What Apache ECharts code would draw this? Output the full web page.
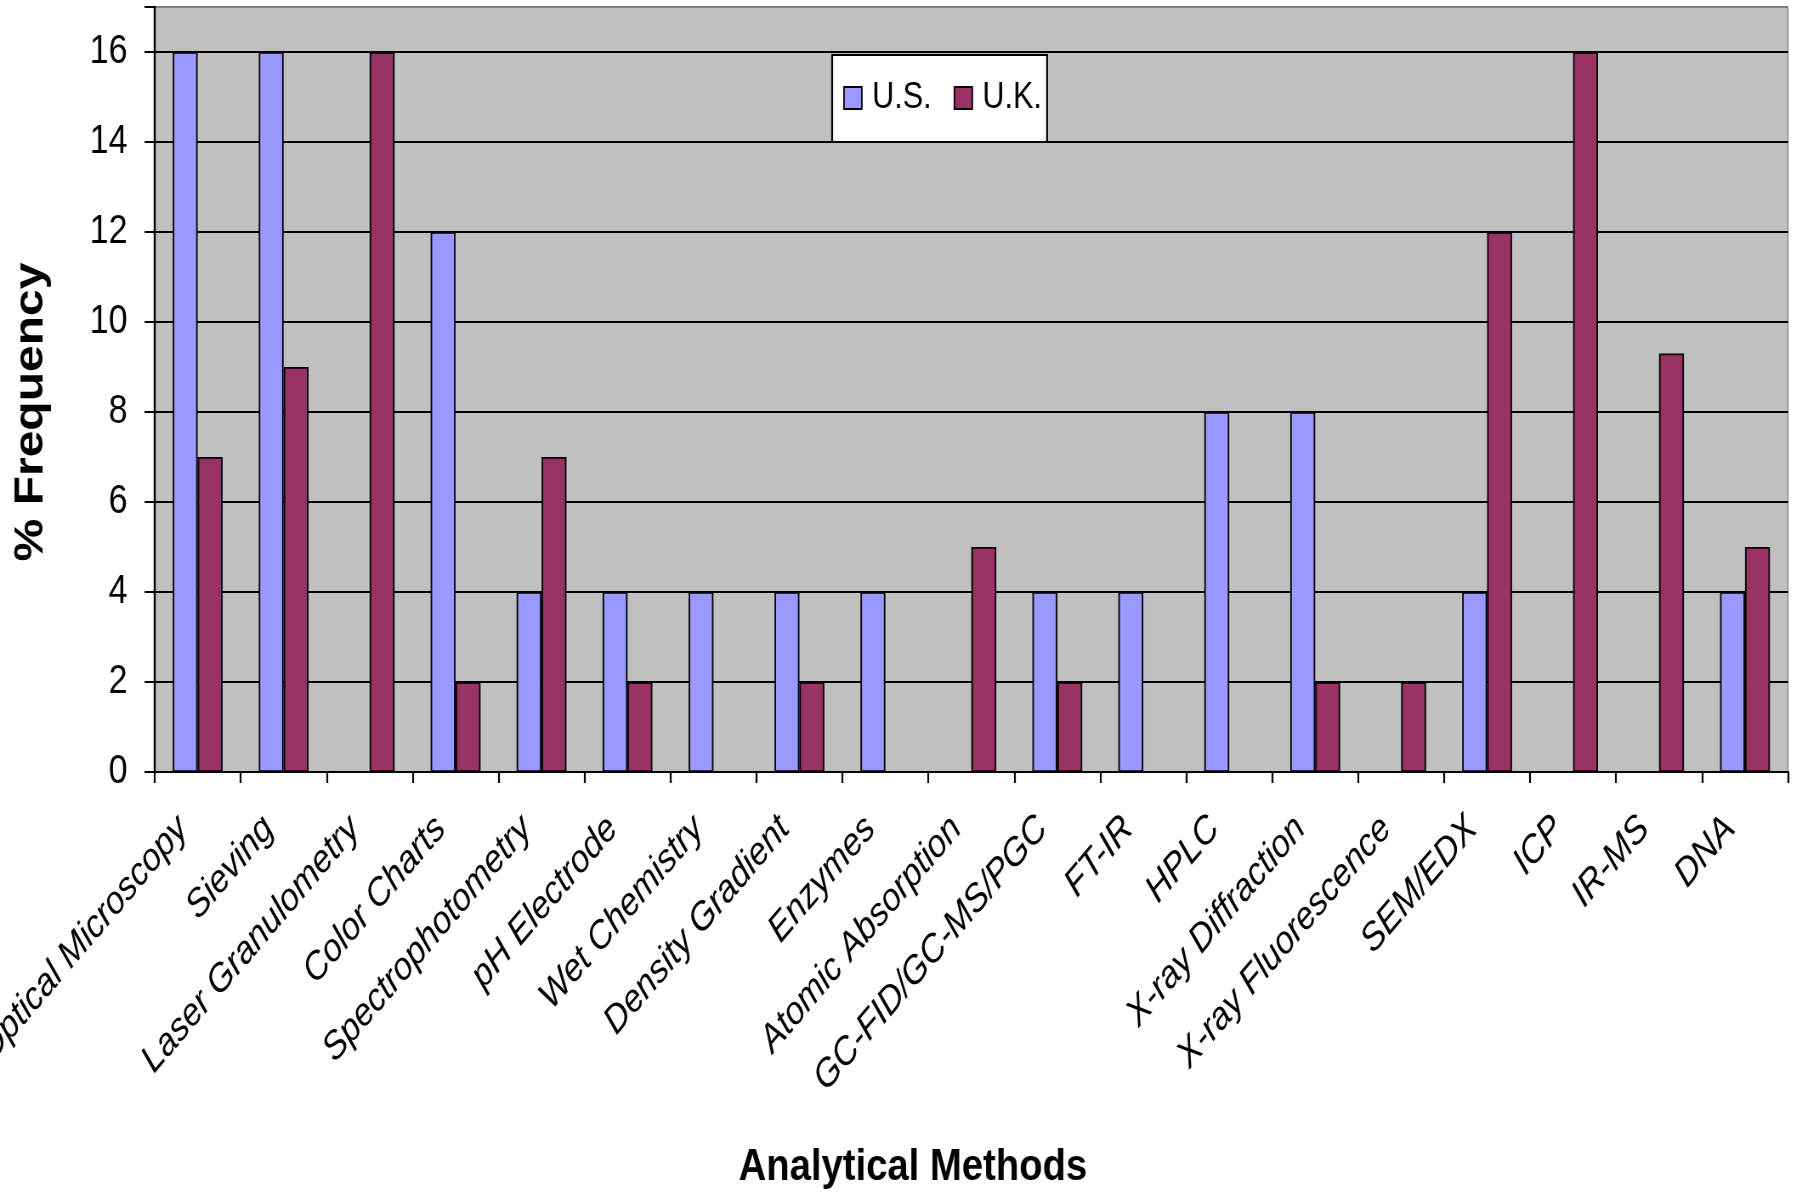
<!DOCTYPE html>
<html><head><meta charset="utf-8">
<script src="https://cdn.jsdelivr.net/npm/echarts@6/dist/echarts.min.js"></script>
<style>
html,body{margin:0;padding:0;background:#fff;overflow:hidden;width:1796px;height:1193px}
#c{width:2113px;height:1193px;transform:scaleX(0.85);transform-origin:0 0}
</style>
</head><body><div id="c"></div>
<script>
const categories = ['Optical Microscopy','Sieving','Laser Granulometry','Color Charts','Spectrophotometry','pH Electrode','Wet Chemistry','Density Gradient','Enzymes','Atomic Absorption','GC-FID/GC-MS/PGC','FT-IR','HPLC','X-ray Diffraction','X-ray Fluorescence','SEM/EDX','ICP','IR-MS','DNA'];
const usValues = [16,16,0,12,4,4,4,4,4,0,4,4,8,8,0,4,0,0,4];
const ukValues = [7,9,16,2,7,2,0,2,0,5,2,0,0,2,2,12,16,9.3,5];
const yTicks = [0,2,4,6,8,10,12,14,16];
const seriesNames = ['U.S.','U.K.'];
const xTitle = 'Analytical Methods';
const yTitle = '% Frequency';

const FONT = '"Liberation Sans",Arial,sans-serif';

const chart = echarts.init(document.getElementById('c'), null, {renderer:'canvas'});
chart.setOption({
  animation:false,
  backgroundColor:'#fff',
  grid:{left:182,right:9.5,top:7,bottom:421,outerBoundsMode:'none',containLabel:false,show:true,backgroundColor:'#C0C0C0',borderColor:'#808080',borderWidth:1.2},
  legend:{
    left:979, top:55, orient:'horizontal', icon:'rect',
    itemWidth:21, itemHeight:22, itemGap:26,
    padding:[23,6,24,13],
    backgroundColor:'#fff', borderColor:'#000', borderWidth:2.2,
    itemStyle:{borderColor:'#000',borderWidth:1.8},
    textStyle:{fontSize:36,fontFamily:FONT,color:'#000',lineHeight:40,padding:[0,0,0,7]},
    data:seriesNames
  },
  xAxis:{
    type:'category', data:categories, boundaryGap:true,
    axisLine:{show:true,lineStyle:{color:'#000',width:2.2}},
    axisTick:{show:true,length:11,lineStyle:{color:'#000',width:2.2}},
    axisLabel:{interval:0,rotate:45,margin:33,padding:[0,25,0,0],fontSize:39,fontStyle:'italic',fontFamily:FONT,color:'#000',hideOverlap:false},
    splitLine:{show:false}
  },
  yAxis:{
    type:'value', min:0, max:17, interval:2,
    axisLine:{show:true,lineStyle:{color:'#000',width:2.4}},
    axisTick:{show:true,length:12,lineStyle:{color:'#000',width:2}},
    axisLabel:{fontSize:40,margin:32,fontFamily:FONT,color:'#000',customValues:yTicks},
    splitLine:{show:true,lineStyle:{color:['#000','#000','#000','#000','#000','#000','#000','#000','#000','#808080'],width:2.2}}
  },
  series:[
    {name:seriesNames[0],type:'bar',data:usValues,barGap:'0%',barCategoryGap:'42%',
     itemStyle:{color:'#9999FF',borderColor:'#000',borderWidth:1.8}},
    {name:seriesNames[1],type:'bar',data:ukValues,barGap:'0%',barCategoryGap:'42%',
     itemStyle:{color:'#993366',borderColor:'#000',borderWidth:1.8}}
  ],
  graphic:[
    {type:'text',x:1074,y:1168,style:{text:xTitle,font:'bold 45px '+FONT,fill:'#000',textAlign:'center',textVerticalAlign:'middle',align:'center',verticalAlign:'middle'}},
    {type:'text',x:36.5,y:412,rotation:Math.PI/2,style:{text:yTitle,font:'bold 48px '+FONT,fill:'#000',textAlign:'center',textVerticalAlign:'middle',align:'center',verticalAlign:'middle'}}
  ]
});
</script></body></html>
